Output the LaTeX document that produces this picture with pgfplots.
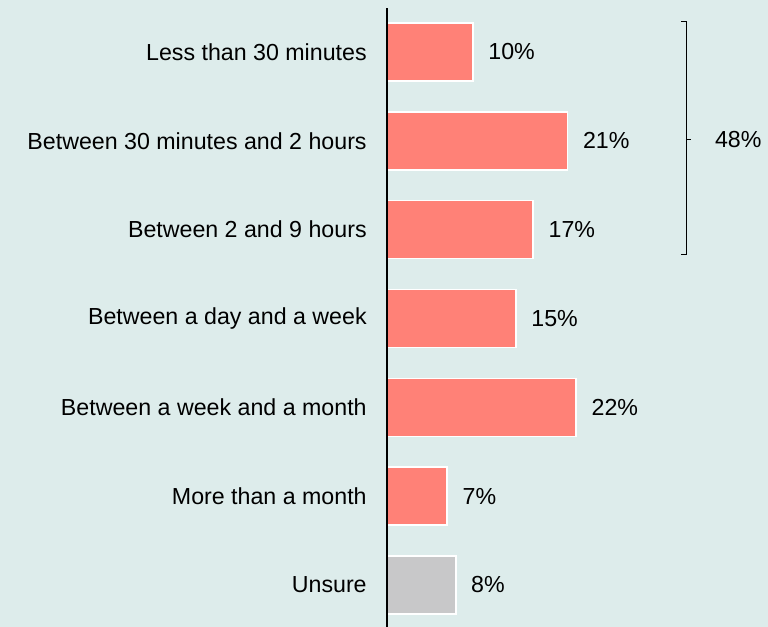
\documentclass[border=0pt]{standalone}
\usepackage{pgfplots}
\pgfplotsset{compat=1.18}
\usepackage{fontspec}
\setmainfont{Liberation Sans}
\definecolor{bg}{HTML}{DDECEB}
\definecolor{salmon}{HTML}{FF8177}
\definecolor{greybar}{HTML}{C8C8C9}
\begin{document}
\begin{tikzpicture}
\fill[bg] (0,0) rectangle (384pt,313.5pt);
\useasboundingbox (0,0) rectangle (384pt,313.5pt);
\begin{axis}[
  at={(193.5pt,0pt)}, anchor=south west,
  scale only axis, width=129pt, height=309.5pt,
  xbar, bar width=29pt, bar shift=0pt,
  xmin=0, xmax=30, ymin=-0.473, ymax=6.495,
  axis x line=none, axis y line=left, axis on top,
  y axis line style={-, line width=0.9pt, black},
  xtick=\empty,
  ytick={0,1,2,3,4,5,6},
  yticklabels={Unsure, More than a month, Between a week and a month, Between a day and a week, Between 2 and 9 hours, Between 30 minutes and 2 hours, Less than 30 minutes},
  ytick style={draw=none},
  yticklabel style={font=\fontsize{11.6}{13}\selectfont, xshift=-4.5pt, anchor=east},
  /pgf/number format/assume math mode=true,
  nodes near coords={\pgfmathprintnumber{\pgfplotspointmeta}\%},
  nodes near coords style={font=\fontsize{11.6}{13}\selectfont, anchor=west, xshift=4pt},
  point meta=x,
  clip=false,
]
\addplot[fill=salmon, draw=white, line width=0.75pt] coordinates {
  (10,6) (21,5) (17,4) (15,3) (22,2) (7,1)};
\addplot[fill=greybar, draw=white, line width=0.75pt] coordinates {(8,0)};
\draw[black, line width=0.5pt] (axis cs:34.2,6.338) -- (axis cs:34.77,6.338) -- (axis cs:34.77,3.715) -- (axis cs:34.2,3.715);
\draw[black, line width=0.5pt] (axis cs:34.77,5.02) -- (axis cs:35.3,5.02);
\node[anchor=west, font=\fontsize{11.6}{13}\selectfont, inner sep=0pt] at (axis cs:38.1,5.02) {48\%};
\end{axis}
\end{tikzpicture}
\end{document}
